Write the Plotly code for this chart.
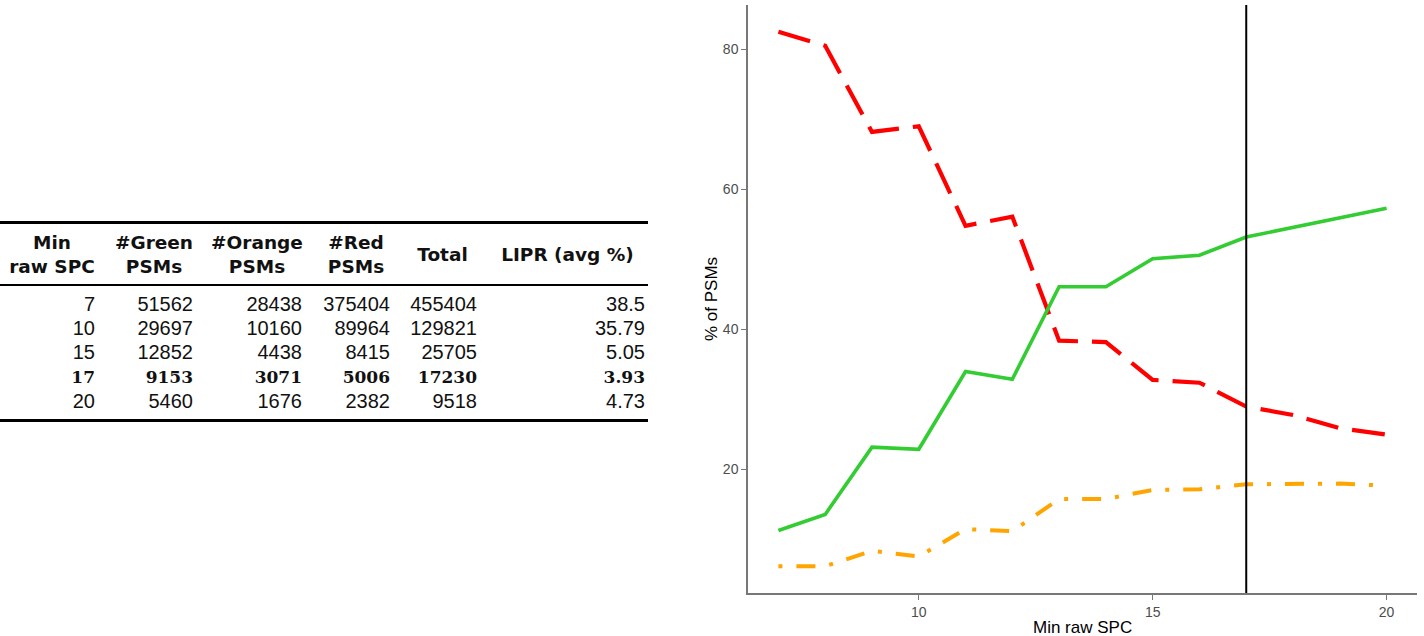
import plotly.graph_objects as go

# ---------------- table data ----------------
col_headers = ["Min<br>raw SPC", "#Green<br>PSMs", "#Orange<br>PSMs",
               "#Red<br>PSMs", "Total", "LIPR (avg %)"]
min_raw_spc = ["7", "10", "15", "17", "20"]
green_psms = ["51562", "29697", "12852", "9153", "5460"]
orange_psms = ["28438", "10160", "4438", "3071", "1676"]
red_psms = ["375404", "89964", "8415", "5006", "2382"]
total_psms = ["455404", "129821", "25705", "17230", "9518"]
lipr_avg = ["38.5", "35.79", "5.05", "3.93", "4.73"]
highlight_spc = "17"

# ---------------- chart data ----------------
spc = [7, 8, 9, 10, 11, 12, 13, 14, 15, 16, 17, 18, 19, 20]
pct_green = [11.3, 13.6, 23.2, 22.9, 34.0, 32.9, 46.1, 46.1, 50.1, 50.6, 53.2, 54.6, 55.9, 57.3]
pct_red = [82.5, 80.5, 68.2, 69.0, 54.8, 56.1, 38.4, 38.2, 32.8, 32.4, 29.0, 27.8, 25.9, 25.0]
pct_orange = [6.2, 6.2, 8.4, 7.6, 11.5, 11.2, 15.8, 15.8, 17.1, 17.2, 17.9, 17.9, 18.0, 17.7]
chosen_spc = 17
x_ticks = [10, 15, 20]
y_ticks = [20, 40, 60, 80]

# ---------------- layout constants (pixels) ----------------
W, H = 1424, 636
M_L, M_R, M_T, M_B = 0, 7, 5, 43
PAPER_W = W - M_L - M_R
PAPER_H = H - M_T - M_B
PLOT_LEFT = 748
TABLE_W = 653
col_right = [95, 193, 302, 390, 477, 645]
col_center = [52, 154, 257, 356, 442.5, 567.5]
row_y = [306, 330, 354, 379, 403]
header_y = 256
rule_top, rule_mid, rule_bot = 222.5, 285, 420.5
rule_right = 648

FONT_SANS = "Liberation Sans, Arial, sans-serif"

fig = go.Figure()

# ---------------- table (text traces on a helper pixel axis) ----------------
columns = [min_raw_spc, green_psms, orange_psms, red_psms, total_psms, lipr_avg]
hi = min_raw_spc.index(highlight_spc)
for ci, col in enumerate(columns):
    texts = [("<b>%s</b>" % v) if ri == hi else v for ri, v in enumerate(col)]
    fams = ["DejaVu Serif" if ri == hi else FONT_SANS for ri in range(len(col))]
    sizes = [17 if ri == hi else 20 for ri in range(len(col))]
    fig.add_trace(go.Scatter(
        x=[col_right[ci]] * len(col), y=row_y[:len(col)],
        mode="text", text=texts, textposition="middle left",
        textfont=dict(family=fams, size=sizes, color="#111111"),
        xaxis="x2", yaxis="y2", showlegend=False, hoverinfo="skip"))

fig.add_trace(go.Scatter(
    x=col_center, y=[header_y] * len(col_headers),
    mode="text", text=["<b>%s</b>" % h for h in col_headers],
    textposition="middle center",
    textfont=dict(family="DejaVu Sans", size=18.5, color="#111111"),
    xaxis="x2", yaxis="y2", showlegend=False, hoverinfo="skip"))

shapes = []
for yv, lw in [(rule_top, 3), (rule_mid, 2), (rule_bot, 3)]:
    shapes.append(dict(type="line", xref="x2", yref="y2", x0=0, x1=rule_right,
                       y0=yv, y1=yv, line=dict(color="black", width=lw)))

# ---------------- line chart ----------------
fig.add_trace(go.Scatter(x=spc, y=pct_red, mode="lines",
                         line=dict(color="#FF0000", width=4.2, dash="33px,14px"),
                         showlegend=False))
fig.add_trace(go.Scatter(x=spc, y=pct_orange, mode="lines",
                         line=dict(color="#FFA500", width=4, dash="4px,14px,19px,14px"),
                         showlegend=False))
fig.add_trace(go.Scatter(x=spc, y=pct_green, mode="lines",
                         line=dict(color="#33CC33", width=3.6),
                         showlegend=False))

shapes.append(dict(type="line", xref="x", yref="y domain", x0=chosen_spc, x1=chosen_spc,
                   y0=0, y1=1, line=dict(color="black", width=2), layer="above"))

def expand(vals, f=0.05):
    lo, hi_ = min(vals), max(vals)
    d = (hi_ - lo) * f
    return [lo - d, hi_ + d]

x_range = expand(spc)
y_range = expand(pct_green + pct_red + pct_orange)

axis_common = dict(showgrid=False, zeroline=False, showline=True, linecolor="#777777",
                   linewidth=1.5, ticks="outside", ticklen=5, tickwidth=1.2,
                   tickcolor="#777777",
                   tickfont=dict(family=FONT_SANS, size=14, color="#4D4D4D"))

fig.update_layout(
    width=W, height=H,
    margin=dict(l=M_L, r=M_R, t=M_T, b=M_B, pad=0, autoexpand=False),
    paper_bgcolor="white", plot_bgcolor="white", showlegend=False,
    xaxis=dict(domain=[PLOT_LEFT / PAPER_W, 1], range=x_range, tickvals=x_ticks,
               anchor="y", automargin=False, **axis_common),
    yaxis=dict(domain=[0, 1], range=y_range, tickvals=y_ticks, anchor="x",
               automargin=False, **axis_common),
    xaxis2=dict(domain=[0, TABLE_W / PAPER_W], range=[0, TABLE_W], visible=False,
                anchor="y2", fixedrange=True),
    yaxis2=dict(domain=[0, 1], range=[H - M_B, M_T], visible=False, anchor="x2",
                fixedrange=True),
    shapes=shapes,
    annotations=[
        dict(text="Min raw SPC", xref="x domain", yref="y domain", x=0.5, y=0,
             xanchor="center", yanchor="middle", yshift=-34, showarrow=False,
             font=dict(family=FONT_SANS, size=17, color="black")),
        dict(text="% of PSMs", xref="x domain", yref="y domain", x=0, y=0.5,
             xanchor="center", yanchor="middle", xshift=-37, textangle=-90,
             showarrow=False, font=dict(family=FONT_SANS, size=17, color="black")),
    ],
)

fig.write_html("out.html",
               config={"displayModeBar": False},
               post_script="document.body.style.margin='0';document.body.style.overflow='hidden';")
